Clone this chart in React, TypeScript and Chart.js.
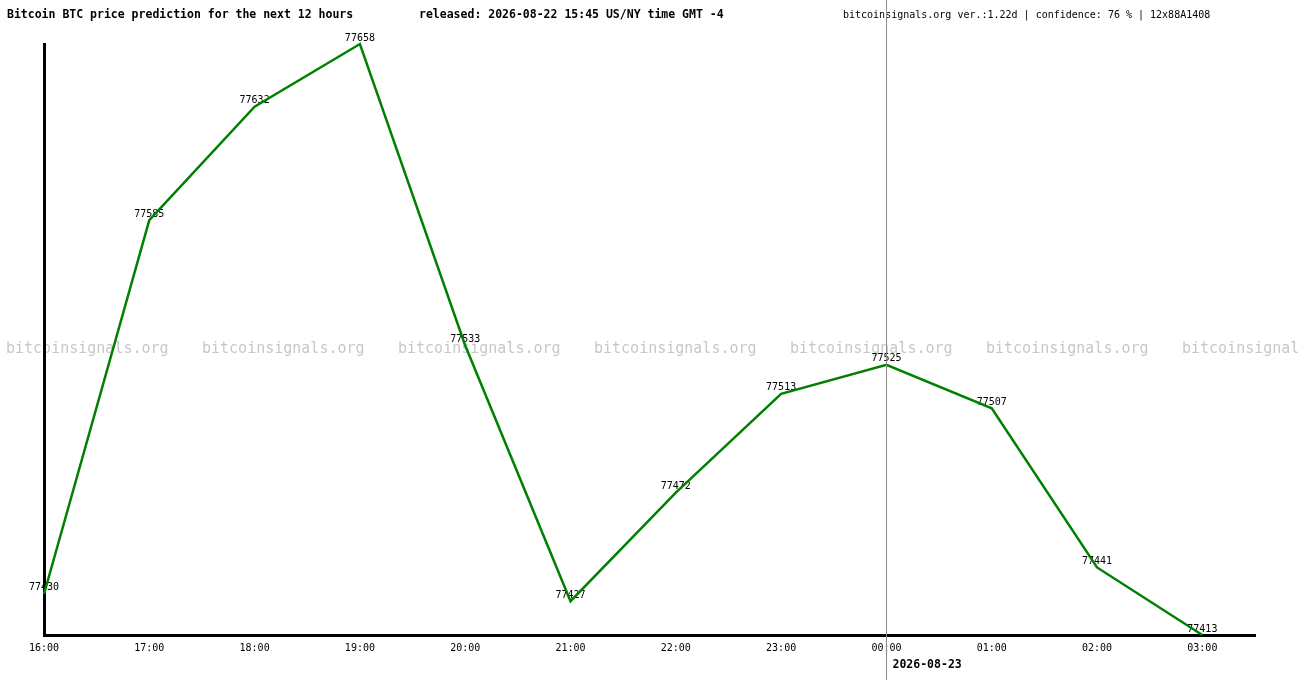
import React, { useEffect, useRef } from 'react';
import Chart from 'chart.js/auto';

// hourly forecast, 2026-08-22 16:00 .. 2026-08-23 03:00
const hours = ['16:00', '17:00', '18:00', '19:00', '20:00', '21:00', '22:00', '23:00', '00:00', '01:00', '02:00', '03:00'];
const prices = [77430, 77585, 77632, 77658, 77533, 77427, 77472, 77513, 77525, 77507, 77441, 77413];
const dayBreakIndex = 8;
const nextDay = '2026-08-23';

const title = 'Bitcoin BTC price prediction for the next 12 hours';
const released = 'released: 2026-08-22 15:45 US/NY time GMT -4';
const info = 'bitcoinsignals.org ver.:1.22d | confidence: 76 % | 12x88A1408';
const watermark = 'bitcoinsignals.org';

const MONO = '"DejaVu Sans Mono", monospace';

const overlay = {
	id: 'overlay',
	beforeDraw(chart: any) {
		const ctx = chart.ctx;
		ctx.save();
		ctx.textBaseline = 'alphabetic';

		// watermark row
		ctx.font = `15px ${MONO}`;
		ctx.fillStyle = '#c8c8c8';
		ctx.textAlign = 'left';
		for (let x = 6; x < chart.width; x += 196) ctx.fillText(watermark, x, 353);

		// value labels above each point
		const meta = chart.getDatasetMeta(0);
		ctx.font = `10px ${MONO}`;
		ctx.fillStyle = '#000';
		ctx.textAlign = 'center';
		meta.data.forEach((pt: any, i: number) => {
			ctx.fillText(String(prices[i]), pt.x, pt.y - 3.5);
		});

		// header
		ctx.textAlign = 'left';
		ctx.font = `bold 11.5px ${MONO}`;
		ctx.fillText(title, 7, 18);
		ctx.fillText(released, 419, 18);
		ctx.font = `10px ${MONO}`;
		ctx.fillText(info, 843, 18);
		ctx.restore();
	},
	afterDraw(chart: any) {
		const ctx = chart.ctx;
		const x = Math.round(chart.scales.x.getPixelForValue(dayBreakIndex)) + 0.5;
		ctx.save();
		ctx.strokeStyle = '#8c8c8c';
		ctx.lineWidth = 1;
		ctx.beginPath();
		ctx.moveTo(x, 0);
		ctx.lineTo(x, chart.height);
		ctx.stroke();
		ctx.font = `bold 11.5px ${MONO}`;
		ctx.fillStyle = '#000';
		ctx.textAlign = 'left';
		ctx.textBaseline = 'alphabetic';
		ctx.fillText(nextDay, x + 6, 668);
		ctx.restore();
	},
};

function PredictionChart() {
	const chartRef = useRef<any>(null);

	useEffect(() => {
		const ctx = chartRef.current?.getContext('2d');
		const chart = new Chart(ctx, {
			type: 'line',
			data: {
				datasets: [
					{
						data: prices.map((p, i) => ({ x: i, y: p })),
						borderColor: '#008000',
						borderWidth: 2.5,
						pointRadius: 0,
						tension: 0,
						fill: false,
						clip: false,
					} as any,
				],
			},
			options: {
				animation: false,
				responsive: false,
				devicePixelRatio: 1,
				layout: { padding: { left: 44, right: 45, top: 44, bottom: 0 } },
				plugins: { legend: { display: false }, tooltip: { enabled: false } },
				scales: {
					x: {
						type: 'linear',
						min: 0,
						max: 11.5,
						grid: { display: false, drawTicks: false },
						border: { display: true, color: '#000', width: 3 },
						ticks: {
							stepSize: 1,
							includeBounds: false,
							autoSkip: false,
							maxRotation: 0,
							padding: 7,
							color: '#000',
							font: { family: MONO, size: 10 },
							callback: (v: any) => (Number.isInteger(v) && hours[v] ? hours[v] : ''),
						},
						afterFit: (scale: any) => {
							scale.height = 45;
						},
					},
					y: {
						type: 'linear',
						min: Math.min(...prices),
						max: Math.max(...prices),
						grid: { display: false, drawTicks: false },
						border: { display: true, color: '#000', width: 3 },
						ticks: { display: false },
						afterFit: (scale: any) => {
							scale.width = 0;
						},
					},
				},
			} as any,
			plugins: [overlay],
		});

		return () => {
			chart.destroy();
		};
	}, []);

	return <canvas ref={chartRef} width={1300} height={680} />;
}

export default function App() {
	return (
		<div style={{ position: 'fixed', left: 0, top: 0, width: 1300, height: 680, background: '#fff' }}>
			<PredictionChart />
		</div>
	);
}
